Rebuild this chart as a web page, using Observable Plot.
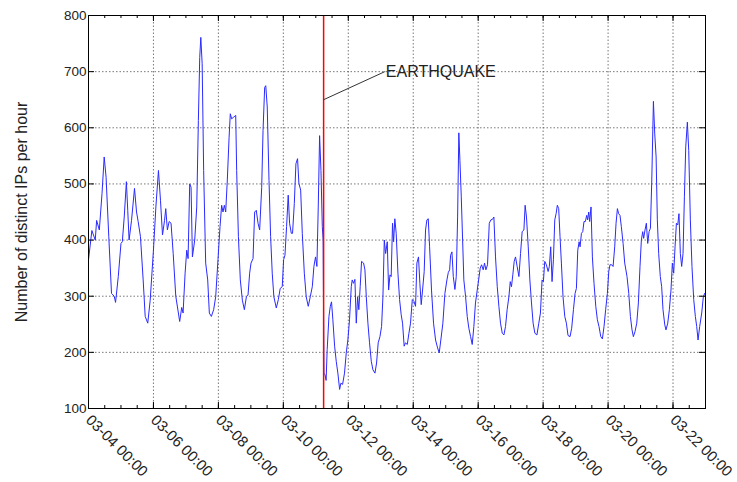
<!DOCTYPE html>
<html><head><meta charset="utf-8">
<script src="https://cdn.jsdelivr.net/npm/d3@7"></script>
<script src="https://cdn.jsdelivr.net/npm/@observablehq/plot@0.6"></script>
<style>
body{margin:0;background:#fff;}
#chart svg{display:block;}
</style>
</head><body><div id="chart"></div>
<script>
// hours since 2011-03-04 00:00 UTC
const hours = [0,2.5,5,6,8,10,11.6,13,15,17,19,20,22,24,25,26.4,28,29,30,31.8,34,35.5,36.7,38.4,40.4,41.9,43.8,45.6,48,49.8,51.7,53.2,54.7,56.2,57.1,58.3,59.6,61,62.6,64.5,
67.4,68.9,69.9,71.4,72.6,73.6,74.8,75.8,76.8,78.5,80,81.2,82.2,83,84,85.1,86.6,88.1,89.3,90.8,92.5,94,95.7,97.2,98.4,99.4,100.4,101.4,102.6,103.9,104.8,105.8,107.3,108.8,109.5,110.8,112.2,113.7,115.2,116.7,117.9,119.1,120.1,121.6,122.8,124,125.3,126.5,128,129,130.2,131,
132.1,133.4,134.6,135.8,137,138.8,140.3,141.7,143.2,144.2,145.2,146.4,147.6,148.6,149.9,150.8,152.1,153.3,154.5,155.5,156.8,158,159.5,160.9,162.4,163.9,165.4,166.6,167.8,168.8,169.8,170.8,171.8,172.8,173.4,174,174.8,175.6,176.4,177.7,178.7,179.6,180.6,181.9,183.1,184.3,185.6,186.5,187.8,189.2,190.5,191.7,192.9,194.2,194.9,195.9,196.9,197.9,198.9,199.8,
200.8,201.8,203.3,204.3,205.3,206.5,207.7,209,210.2,211.7,212.9,214.1,215.4,216.6,217.6,218.6,219.6,220.8,221.8,222.8,223.7,224.7,225.5,226.4,227.4,228.7,229.9,231.1,232.1,233.3,234.3,235.6,236.8,238,239.3,240.5,241.7,242.7,243.9,244.9,245.9,246.9,248.1,249.1,250.1,251.1,252.1,253.5,255,256.5,258,259.2,260.4,261.9,263.4,264.9,
265.9,266.9,267.6,268.6,269.6,270.8,271.8,272.8,273.7,274.5,275.5,276.5,277.4,278.7,279.9,281.1,282.4,283.6,284.8,286,287.3,288.5,289.5,290.5,291.7,292.7,293.7,294.9,296.2,297.4,298.6,299.6,300.8,302.1,303.3,304.5,305.8,307,308.2,309.4,310.7,311.7,312.6,313.6,314.6,315.6,316.8,318.1,319.3,320.5,321.8,322.7,323.7,325,326.2,327.4,328.6,329.9,331.4,332.8,334,
335.2,336.2,337.2,338.4,339.7,340.6,341.6,342.6,343.6,344.6,345.6,346.5,347.5,348.5,349.5,350.7,352,353.2,354.4,355.9,357.1,358.4,359.6,360.6,361.6,362.6,363.3,364.3,365.3,366.2,367.2,368.2,368.9,369.7,370.4,371.4,372.4,373.6,374.9,376.1,377.3,378.6,379.8,381,382.2,383.5,384.5,385.4,386.7,387.7,388.9,389.9,390.9,391.8,392.8,393.8,395.1,396.3,
398,399.3,400.5,401.7,402.7,403.9,405.2,406.4,407.6,408.6,409.6,410.3,411.3,412.3,413.3,414.3,415.3,416.3,417.5,418.5,419.5,420.4,421.4,422.6,423.6,424.6,425.9,426.8,428.1,429.3,430.5,431.5,432.5,433.5,434.5,435.5,436.4,437.4,438.4,439.4,440.4,441.4,442.6,443.6,444.8,446,447.3,448.5,449.5,450.5,451.7,453.2,454.4,455.4];
const ips = [365,417,400,435,418,483,548,512,406,305,300,289,335,394,397,441,504,453,400,435,492,450,433,406,329,264,252,293,382,459,524,471,409,435,456,418,433,430,376,300,
255,280,270,341,382,367,500,494,370,400,459,613,725,761,714,524,359,329,270,264,276,299,365,424,462,450,462,450,507,583,625,616,619,622,524,406,329,293,276,299,302,341,359,367,450,453,430,418,494,595,672,675,
637,506,406,341,299,279,294,314,317,365,373,424,480,430,412,412,465,536,545,501,489,412,341,299,282,299,317,353,370,353,459,586,524,424,400,163,160,150,205,264,282,290,258,211,184,163,134,145,143,163,199,222,258,317,329,323,330,252,299,276,
317,362,359,347,299,252,217,184,169,163,181,217,228,246,299,400,376,397,311,338,335,430,397,438,412,341,294,267,252,211,217,214,234,252,294,291,282,359,370,323,285,311,344,418,436,438,388,311,252,222,208,199,222,252,305,329,
342,347,373,379,335,312,335,441,591,542,477,400,329,299,264,243,228,214,246,288,311,332,350,356,347,359,347,356,430,436,437,441,370,317,282,252,234,231,246,276,299,326,317,338,362,370,353,335,376,415,418,462,441,388,329,288,252,234,231,252,270,
329,326,362,356,344,353,388,326,365,436,447,462,456,406,359,299,264,252,230,228,243,276,305,314,382,397,388,412,415,433,433,444,436,450,433,459,370,323,282,258,246,228,224,246,276,305,344,356,356,353,388,430,456,447,444,424,394,359,
335,305,264,240,228,237,252,288,353,400,415,403,418,430,394,415,421,507,647,589,548,436,376,335,317,276,249,240,252,276,311,359,341,388,430,427,447,376,353,376,477,566,610,560,436,353,294,264,246,222,246,270,299,305];

const xTickLabels = ["03-04 00:00","03-06 00:00","03-08 00:00","03-10 00:00","03-12 00:00","03-14 00:00","03-16 00:00","03-18 00:00","03-20 00:00","03-22 00:00"];
const yTicks = [100,200,300,400,500,600,700,800];
const yLabel = "Number of distinct IPs per hour";
const eventTime = "2011-03-11T05:46Z";
const eventLabel = "EARTHQUAKE";
const eventLineFrom = 650;              // value where the leader line starts
const eventLabelAt = {time: "2011-03-13T03:00Z", value: 700};
const startTime = "2011-03-04T00:00Z";
const endTime = "2011-03-23T00:00Z";

const t0 = new Date(startTime).getTime();
const data = hours.map((h, i) => ({date: new Date(t0 + h * 3600e3), value: ips[i]}));
const xTicks = xTickLabels.map(s => new Date(`2011-${s.slice(0,5)}T${s.slice(6)}Z`));
const labelByTime = new Map(xTicks.map((d, i) => [+d, xTickLabels[i]]));
const minorTicks = d3.utcHour.every(12).range(new Date(startTime), new Date(new Date(endTime).getTime() + 1));

const W = 737, H = 482, mL = 88, mR = 32, mT = 15, mB = 74;
const innerW = W - mL - mR, innerH = H - mT - mB;
const gridStyle = {stroke: "#555", strokeOpacity: 1, strokeWidth: 0.8, strokeDasharray: "1.5,2"};
const font = "'Liberation Sans', Arial, Helvetica, sans-serif";

const plot = Plot.plot({
  width: W, height: H,
  marginLeft: mL, marginRight: mR, marginTop: mT, marginBottom: mB,
  style: {fontFamily: font, fontSize: "16px", color: "#222", background: "#fff", overflow: "visible"},
  x: {type: "utc", domain: [new Date(startTime), new Date(endTime)]},
  y: {domain: [100, 800]},
  marks: [
    Plot.gridX(xTicks, gridStyle),
    Plot.gridY(yTicks, gridStyle),
    Plot.line(data, {x: "date", y: "value", stroke: "#2a2aff", strokeWidth: 1}),
    Plot.ruleX([new Date(eventTime)], {stroke: "#ff0000", strokeWidth: 1.5}),
    Plot.link([0], {x1: () => new Date(eventTime), y1: () => eventLineFrom,
                    x2: () => new Date(eventLabelAt.time), y2: () => eventLabelAt.value,
                    stroke: "#333", strokeWidth: 1}),
    Plot.text([eventLabel], {x: () => new Date(eventLabelAt.time), y: () => eventLabelAt.value,
                    text: d => d, textAnchor: "start", dx: 1, fontSize: 16, fill: "#222"}),
    Plot.frame({stroke: "#000", strokeWidth: 1}),
    // inward ticks (mirrored)
    Plot.ruleX(xTicks, {x: d => d, insetTop: innerH - 6, stroke: "#000"}),
    Plot.ruleX(xTicks, {x: d => d, insetBottom: innerH - 6, stroke: "#000"}),
    Plot.ruleX(minorTicks, {x: d => d, insetTop: innerH - 3, stroke: "#000"}),
    Plot.ruleX(minorTicks, {x: d => d, insetBottom: innerH - 3, stroke: "#000"}),
    Plot.ruleY(yTicks, {y: d => d, insetRight: innerW - 6, stroke: "#000"}),
    Plot.ruleY(yTicks, {y: d => d, insetLeft: innerW - 6, stroke: "#000"}),
    Plot.axisX(xTicks, {anchor: "bottom", tickSize: 0, tickPadding: 9, tickRotate: 45,
                        tickFormat: d => labelByTime.get(+d), label: null, fontSize: 15}),
    Plot.axisY(yTicks, {anchor: "left", tickSize: 0, tickPadding: 2, fontSize: 13.5, label: null}),
    Plot.text([yLabel], {frameAnchor: "left", rotate: -90, dx: -67, text: d => d,
                         fontSize: 16, fill: "#222", textAnchor: "middle"})
  ]
});
document.getElementById("chart").appendChild(plot);
</script>
</body></html>
